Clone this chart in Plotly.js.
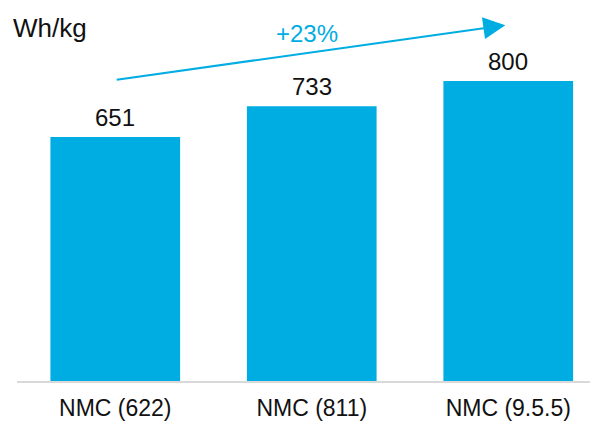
<!DOCTYPE html>
<html>
<head>
<meta charset="utf-8">
<script src="https://cdn.plot.ly/plotly-3.0.1.min.js"></script>
<style>html,body{margin:0;padding:0;background:#fff;}#chart{width:600px;height:421px;}</style>
</head>
<body>
<div id="chart"></div>
<script>
const categories = ["NMC (622)", "NMC (811)", "NMC (9.5.5)"];
const energyDensity = [651, 733, 800];
const unitLabel = "Wh/kg";
const growthLabel = "+23%";

const barColor = "#00ADE2";
const fontFam = "Liberation Sans, Arial, sans-serif";
const trace = {
  type: "bar",
  x: categories.map((c, i) => i),
  y: energyDensity,
  width: 0.66,
  marker: {color: barColor},
  hoverinfo: "skip"
};

const valueLabels = energyDensity.map((v, i) => ({
  xref: "x", yref: "y", x: i, y: v,
  text: String(v), showarrow: false,
  xanchor: "center", yanchor: "bottom", yshift: 4,
  font: {family: fontFam, size: 24, color: "#111"}
}));

const layout = {
  width: 600, height: 421,
  margin: {l: 17, r: 10, t: 6, b: 40},
  paper_bgcolor: "#fff", plot_bgcolor: "#fff",
  showlegend: false,
  font: {family: fontFam, size: 24, color: "#111"},
  xaxis: {
    range: [-0.5, 2.416],
    tickmode: "array",
    tickvals: categories.map((c, i) => i),
    ticktext: categories,
    showgrid: false, zeroline: false,
    showline: true, linecolor: "#D9D9D9", linewidth: 1.5,
    ticks: "", tickfont: {family: fontFam, size: 23, color: "#111"},
    ticklabelstandoff: 6,
    fixedrange: true
  },
  yaxis: {
    range: [0, 1000],
    visible: false,
    showgrid: false, zeroline: false,
    fixedrange: true
  },
  annotations: valueLabels.concat([
    {
      xref: "x", yref: "y", x: 1.985, y: 949,
      axref: "x", ayref: "y", ax: 0, ay: 803,
      showarrow: true, arrowhead: 2, arrowsize: 2.2, arrowwidth: 2, arrowcolor: barColor,
      text: ""
    },
    {
      xref: "x", yref: "y", x: 0.977, y: 928,
      text: growthLabel, showarrow: false,
      font: {family: fontFam, size: 24, color: barColor}
    },
    {
      xref: "paper", yref: "paper", x: -0.01, y: (421 - 40 - 28) / 375,
      xanchor: "left", yanchor: "middle",
      text: unitLabel, showarrow: false,
      font: {family: fontFam, size: 26, color: "#111"}
    }
  ])
};

Plotly.newPlot("chart", [trace], layout, {displayModeBar: false, staticPlot: true});
</script>
</body>
</html>
